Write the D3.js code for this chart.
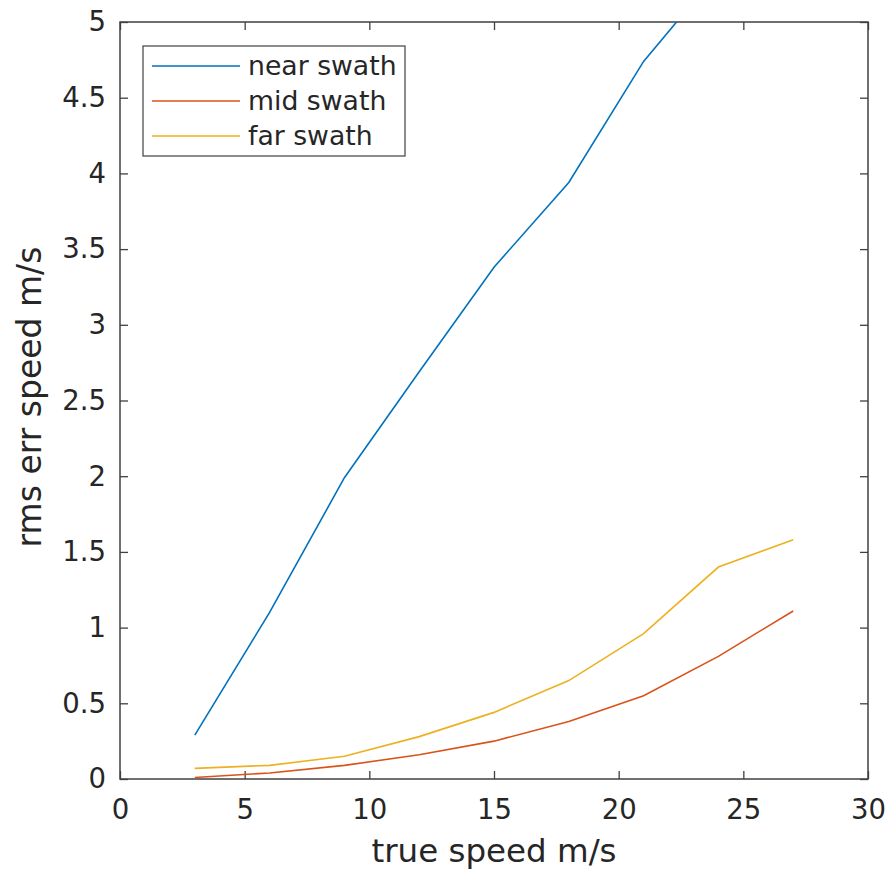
<!DOCTYPE html>
<html>
<head>
<meta charset="utf-8">
<script src="https://cdn.jsdelivr.net/npm/d3@7"></script>
<style>
  body { margin: 0; background: #fff; }
  svg text { font-family: "DejaVu Sans", sans-serif; fill: #262626; }
</style>
</head>
<body>
<div id="chart"></div>
<script>
const SPEEDS = [3, 6, 9, 12, 15, 18, 21, 24, 27];
const NEAR_SWATH = [0.29, 1.1, 1.99, 2.69, 3.38, 3.94, 4.74, 5.33, 5.9];
const MID_SWATH  = [0.01, 0.04, 0.09, 0.16, 0.25, 0.38, 0.55, 0.81, 1.11];
const FAR_SWATH  = [0.07, 0.09, 0.15, 0.28, 0.44, 0.65, 0.96, 1.40, 1.58];
const X_TICKS = [0, 5, 10, 15, 20, 25, 30];
const Y_TICKS = [0, 0.5, 1, 1.5, 2, 2.5, 3, 3.5, 4, 4.5, 5];

const SERIES = [
  { label: "near swath", values: NEAR_SWATH, color: "#0072BD" },
  { label: "mid swath",  values: MID_SWATH,  color: "#D95319" },
  { label: "far swath",  values: FAR_SWATH,  color: "#EDB120" },
];

const width = 892, height = 869;
const margin = { top: 22, right: 24, bottom: 90, left: 120 };
const innerW = width - margin.left - margin.right;
const innerH = height - margin.top - margin.bottom;

const svg = d3.select("#chart").append("svg")
  .attr("width", width)
  .attr("height", height);

const g = svg.append("g")
  .attr("transform", `translate(${margin.left},${margin.top})`);

const x = d3.scaleLinear().domain([0, 30]).range([0, innerW]);
const y = d3.scaleLinear().domain([0, 5]).range([innerH, 0]);

svg.append("defs").append("clipPath").attr("id", "plot-clip")
  .append("rect").attr("width", innerW).attr("height", innerH);

const axisColor = "#404040";
const tickLen = 8;
const fmt = d3.format("~g");

// Axes, ticks pointing inward on all four sides (box on)
const styleAxis = (sel) => {
  sel.select(".domain").remove();
  sel.selectAll(".tick line").attr("stroke", axisColor).attr("stroke-width", 1.3);
  sel.selectAll(".tick text").attr("font-size", "27.5px").attr("fill", "#262626");
};

g.append("g").attr("transform", `translate(0,${innerH})`)
  .call(d3.axisBottom(x).tickValues(X_TICKS).tickFormat(fmt).tickSizeInner(-tickLen).tickPadding(20))
  .call(styleAxis);
g.append("g")
  .call(d3.axisTop(x).tickValues(X_TICKS).tickFormat("").tickSizeInner(-tickLen))
  .call(styleAxis);
g.append("g")
  .call(d3.axisLeft(y).tickValues(Y_TICKS).tickFormat(fmt).tickSizeInner(-tickLen).tickPadding(14))
  .call(styleAxis);
g.append("g").attr("transform", `translate(${innerW},0)`)
  .call(d3.axisRight(y).tickValues(Y_TICKS).tickFormat("").tickSizeInner(-tickLen))
  .call(styleAxis);

g.selectAll(".tick text").attr("font-family", "DejaVu Sans, sans-serif");

g.append("rect")
  .attr("width", innerW).attr("height", innerH)
  .attr("fill", "none").attr("stroke", axisColor).attr("stroke-width", 1.5);

// Lines
const line = d3.line()
  .x((d, i) => x(SPEEDS[i]))
  .y((d) => y(d));

g.append("g").attr("clip-path", "url(#plot-clip)")
  .selectAll(".series")
  .data(SERIES)
  .join("path")
  .attr("class", "series")
  .attr("fill", "none")
  .attr("stroke", (d) => d.color)
  .attr("stroke-width", 1.6)
  .attr("d", (d) => line(d.values));

// Legend
const legend = g.append("g").attr("transform", "translate(23,24)");
legend.append("rect")
  .attr("width", 262).attr("height", 110)
  .attr("fill", "#fff").attr("stroke", axisColor).attr("stroke-width", 1.2);

const rowY = d3.scalePoint().domain(SERIES.map((d) => d.label)).range([20, 90]);

legend.selectAll(".leg-line")
  .data(SERIES)
  .join("line")
  .attr("x1", 9).attr("x2", 97)
  .attr("y1", (d) => rowY(d.label)).attr("y2", (d) => rowY(d.label))
  .attr("stroke", (d) => d.color).attr("stroke-width", 1.6);

legend.selectAll(".leg-text")
  .data(SERIES)
  .join("text")
  .attr("x", 105)
  .attr("y", (d) => rowY(d.label))
  .attr("dy", "0.35em")
  .attr("font-size", "26.7px")
  .text((d) => d.label);

// Axis labels
svg.append("text")
  .attr("x", margin.left + innerW / 2)
  .attr("y", 862)
  .attr("text-anchor", "middle")
  .attr("font-size", "32.5px")
  .text("true speed m/s");

svg.append("text")
  .attr("transform", `translate(41,${397}) rotate(-90)`)
  .attr("text-anchor", "middle")
  .attr("font-size", "33px")
  .text("rms err speed m/s");
</script>
</body>
</html>
